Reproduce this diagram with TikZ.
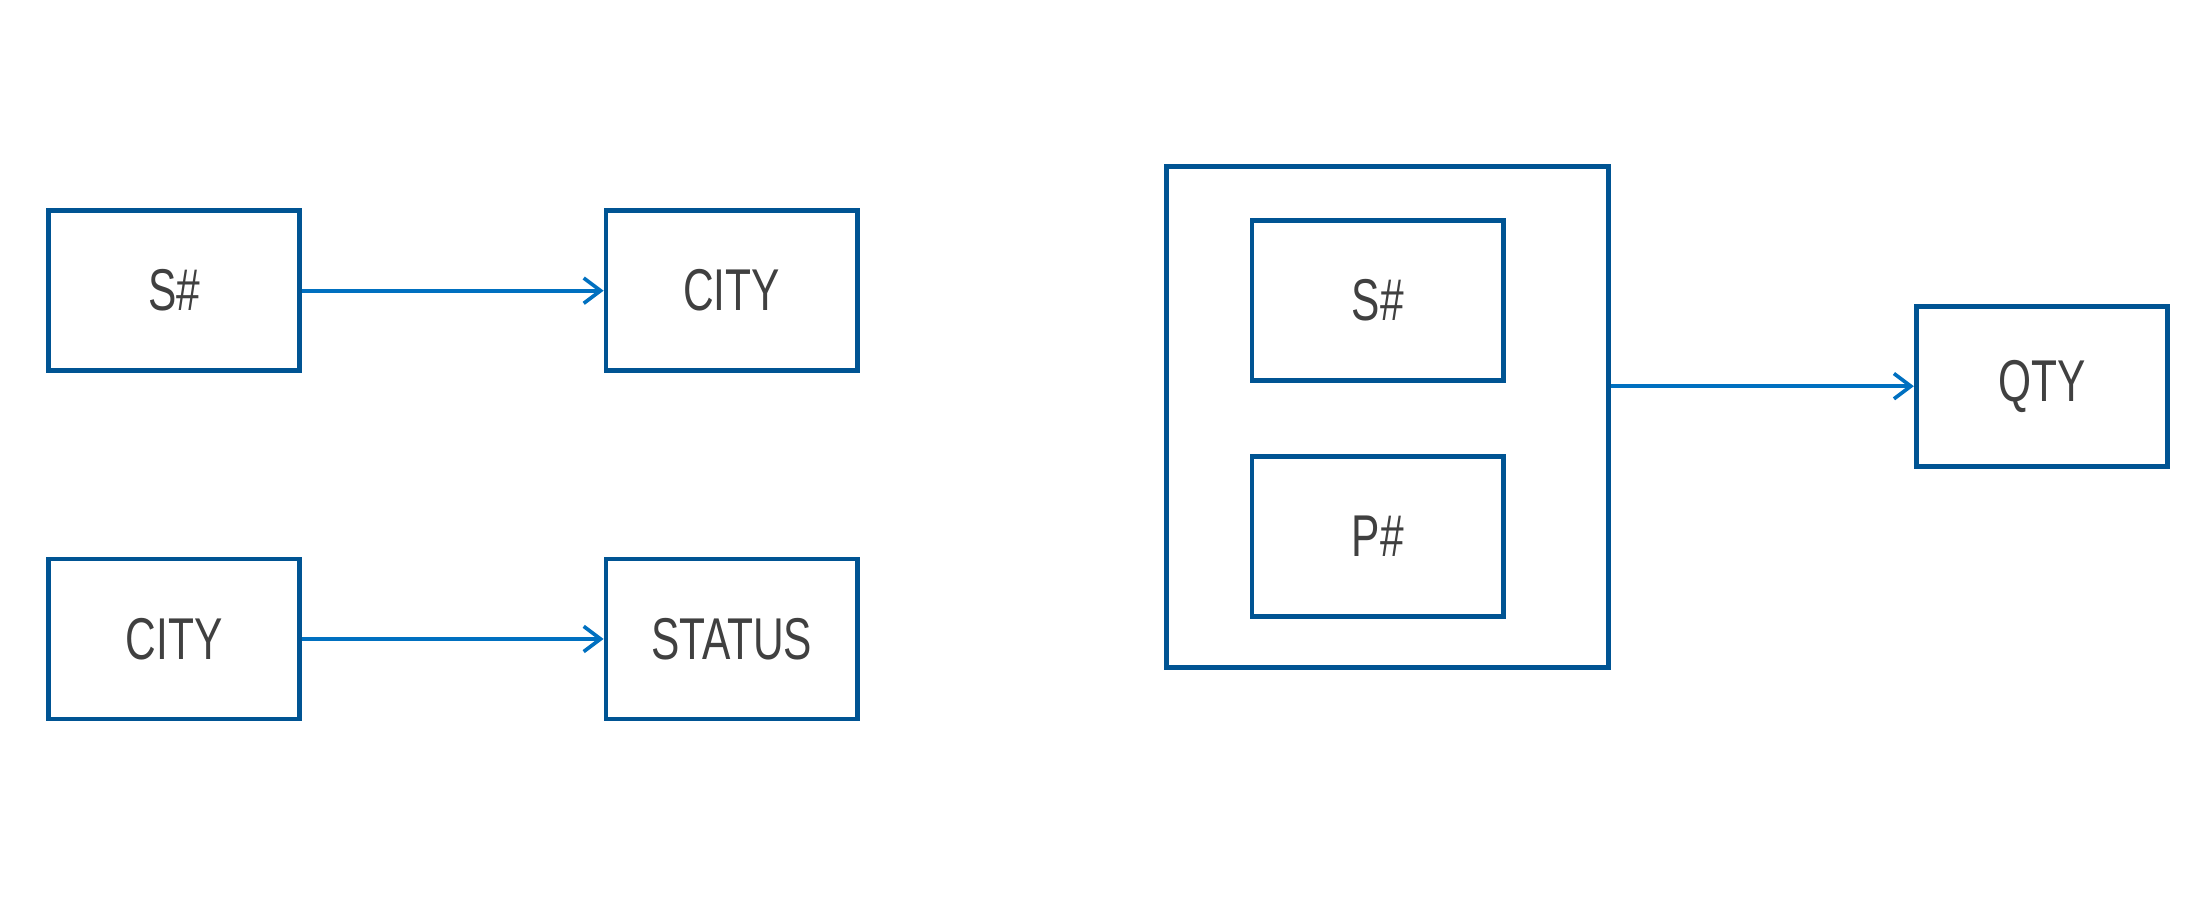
\documentclass[tikz,border=0pt]{standalone}
\usepackage{fontspec}
\setmainfont[FakeStretch=0.72]{Liberation Sans}
\usetikzlibrary{arrows.meta}
\definecolor{boxblue}{RGB}{0,84,147}
\definecolor{arrowblue}{RGB}{0,112,192}
\definecolor{txt}{RGB}{64,64,64}
\begin{document}
\begin{tikzpicture}[x=0.5pt,y=-0.5pt,
  attr/.style={draw=boxblue,line width=1.7pt,minimum width=89.5pt,minimum height=57pt,inner sep=0pt,text=txt,font=\fontsize{21}{25}\selectfont},
  outerbox/.style={draw=boxblue,line width=1.7pt,minimum width=157.5pt,minimum height=178.5pt,inner sep=0pt},
  fd/.style={draw=arrowblue,line width=1.3pt,-{Straight Barb[length=6pt,width=9pt,line width=1.3pt]}}]
\useasboundingbox (0,0) rectangle (1568,656);
\node[attr] (s1) at (124,207) {S\#};
\node[attr] (c1) at (521,207) {CITY};
\node[attr] (c2) at (124,455) {CITY};
\node[attr] (st) at (521,455) {STATUS};
\node[outerbox] (big) at (988,297) {};
\node[attr] (s2) at (981,214) {S\#};
\node[attr] (p2) at (981,382) {P\#};
\node[attr] (q) at (1454,275) {QTY};
\draw[fd] (s1.east) -- (c1.west);
\draw[fd] (c2.east) -- (st.west);
\draw[fd] (big.east |- q.west) -- (q.west);
\end{tikzpicture}
\end{document}
